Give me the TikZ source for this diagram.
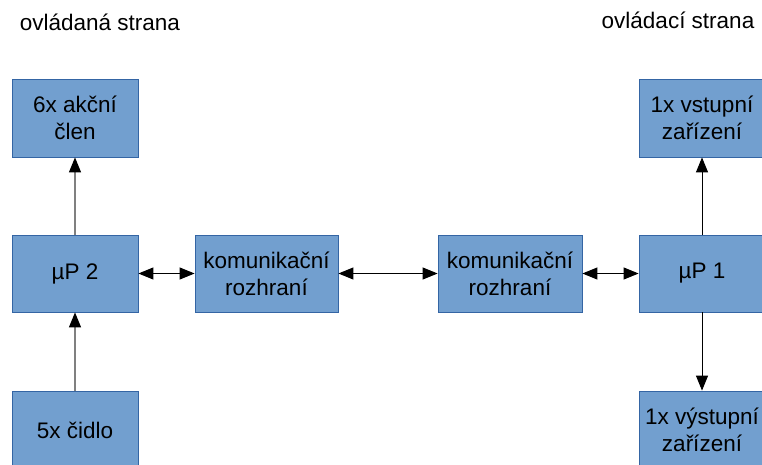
\documentclass[tikz,border=0pt]{standalone}
\usepackage{fontspec}
\setmainfont{Liberation Sans}
\usetikzlibrary{arrows.meta}
\definecolor{boxfill}{HTML}{729FCF}
\definecolor{boxline}{HTML}{3465A4}
\definecolor{grayline}{HTML}{808080}
\tikzset{
  blok/.style={draw=boxline, line width=0.8pt, fill=boxfill, inner sep=0pt,
    align=center, font=\fontsize{22.5}{27}\selectfont, text=black},
  tip/.style={Triangle[length=15pt,width=12pt,color=black]},
  conn/.style={line width=1pt, draw=black},
  gconn/.style={line width=1.2pt, draw=grayline},
  titul/.style={font=\fontsize{22.5}{27}\selectfont, text=black, inner sep=0pt}
}
\begin{document}
\begin{tikzpicture}[x=1pt,y=-1pt]
\useasboundingbox (0,0) rectangle (762,465);
\node[titul] (t1) at (100,22) {ovládaná strana};
\node[titul] (t2) at (678,20) {ovládací strana};
\node[blok, minimum width=126pt, minimum height=78pt] (a) at (75,118) {6x akční\\člen};
\node[blok, minimum width=126pt, minimum height=77pt] (mp2) at (75,273.5) {µP 2};
\node[blok, minimum width=126pt, minimum height=78pt] (c) at (75,430) {5x čidlo};
\node[blok, minimum width=143pt, minimum height=77pt] (k1) at (266.5,273.5) {komunikační\\rozhraní};
\node[blok, minimum width=144pt, minimum height=77pt] (k2) at (510,273.5) {komunikační\\rozhraní};
\node[blok, minimum width=126pt, minimum height=77pt] (mp1) at (702,273.5) {µP 1};
\node[blok, minimum width=126pt, minimum height=78pt] (vs) at (702,118) {1x vstupní\\zařízení};
\node[blok, minimum width=126pt, minimum height=78pt] (vy) at (702,430) {1x výstupní\\zařízení};
\draw[gconn, -{Triangle[length=15pt,width=12pt,color=black]}] (mp2.north) -- (a.south);
\draw[gconn, -{Triangle[length=15pt,width=12pt,color=black]}] (c.north) -- (mp2.south);
\draw[conn, -{Triangle[length=15pt,width=12pt]}] (mp1.north) -- (vs.south);
\draw[conn, -{Triangle[length=15pt,width=12pt]}] (mp1.south) -- (vy.north);
\draw[conn, {Triangle[length=15pt,width=12pt]}-{Triangle[length=15pt,width=12pt]}] (mp2.east) -- (k1.west);
\draw[conn, {Triangle[length=15pt,width=12pt]}-{Triangle[length=15pt,width=12pt]}] (k1.east) -- (k2.west);
\draw[conn, {Triangle[length=15pt,width=12pt]}-{Triangle[length=15pt,width=12pt]}] (k2.east) -- (mp1.west);
\end{tikzpicture}
\end{document}
